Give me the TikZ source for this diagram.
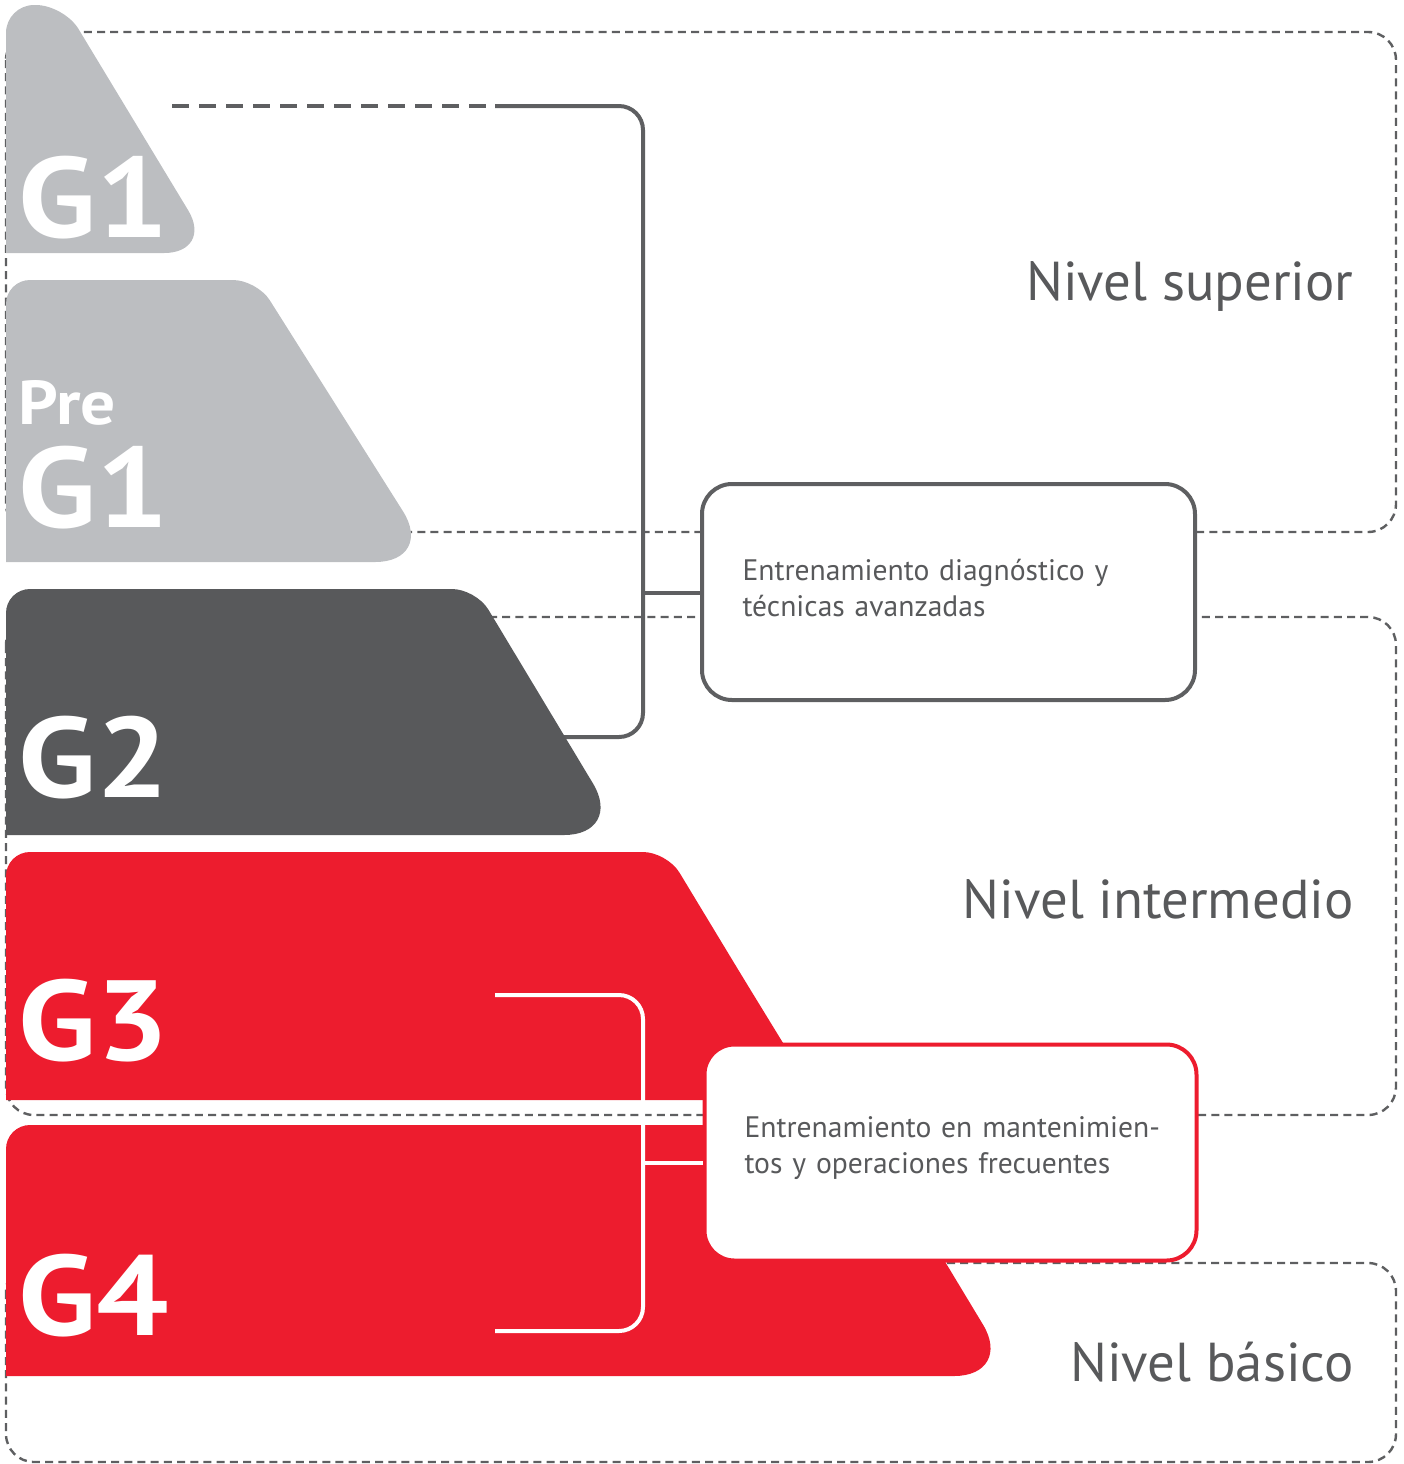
\documentclass[tikz,border=0pt]{standalone}
\usepackage{fontspec}
\setmainfont{PT Sans}
\newfontfamily\gfont[FakeStretch=1.12]{PT Sans}
\usepackage{tikz}
\usetikzlibrary{calc,positioning}
\definecolor{lgrayx}{HTML}{BCBEC1}
\definecolor{dgrayx}{HTML}{58595B}
\definecolor{redx}{HTML}{ED1C2E}
\definecolor{linex}{HTML}{5E5F61}
\tikzset{
  lvl/.style={draw=linex,line width=1.2pt,dash pattern=on 4pt off 2.6pt,rounded corners=14pt},
  brk/.style={draw=linex,line width=2pt,rounded corners=12pt},
  wbrk/.style={draw=white,line width=2pt,rounded corners=12pt},
  infobox/.style={line width=2pt,fill=white,rounded corners=15pt,minimum height=108pt,text width=206pt,align=left,inner xsep=20pt,text=dgrayx,font=\fontsize{14.8}{18}\selectfont},
  glab/.style={anchor=base west,inner sep=0pt,text=white,font=\gfont\bfseries\fontsize{57}{57}\selectfont},
  nivlab/.style={anchor=base east,inner sep=0pt,text=dgrayx,font=\fontsize{27.4}{30}\selectfont}
}

\begin{document}
\begin{tikzpicture}[x=0.5pt,y=-0.5pt]
\useasboundingbox (0,0) rectangle (1404,1464);
% niveles
\foreach \ya/\yb in {32/532,617/1115,1263/1462}{\draw[lvl] (6,\ya) rectangle (1396,\yb);}
% bracket gris
\draw[linex,line width=2pt,dash pattern=on 8.5pt off 5pt] (172,106) -- (495,106);
\draw[brk] (495,106) -- (643,106) -- (643,737) -- (495,737);
% bloques
\fill[lgrayx] (6,130) [rounded corners=14pt] -- (6,5) -- (64,5) -- (139,129) [rounded corners=25pt] -- (214,253) -- (110,253) [sharp corners] -- (6,253) -- cycle;
\fill[lgrayx] (6,400) [rounded corners=12pt] -- (6,280) -- (257,280) -- (346,421) [rounded corners=30pt] -- (435,562) -- (220,562) [sharp corners] -- (6,562) -- cycle;
\fill[dgrayx] (6,700) [rounded corners=12pt] -- (6,589) -- (476,589) -- (550,712) [rounded corners=30pt] -- (624,835) -- (300,835) [sharp corners] -- (6,835) -- cycle;
\fill[redx] (6,970) [rounded corners=12pt] -- (6,852) -- (667,852) -- (742,976) [rounded corners=25pt] -- (818,1100) -- (400,1100) [sharp corners] -- (6,1100) -- cycle;
\fill[redx] (6,1250) [rounded corners=12pt] -- (6,1125) -- (863,1125) -- (938,1250) [rounded corners=30pt] -- (1014,1376) -- (500,1376) [sharp corners] -- (6,1376) -- cycle;
% bracket blanco
\draw[wbrk] (495,995) -- (643,995) -- (643,1331) -- (495,1331);
% cajas
\node[infobox,draw=linex,minimum width=246.5pt] (box1) at (948.5,592) {Entrenamiento diagnóstico y\\técnicas avanzadas\par\vspace*{4pt}};
\node[infobox,draw=redx,minimum width=243.5pt] (box2) at (950.5,1152.5) {\mbox{Entrenamiento en mantenimien-}\\tos y operaciones frecuentes\par\vspace*{4pt}};
\coordinate (gj) at (643,593);
\coordinate (rj) at (643,1163);
\draw[brk] (gj) -- (gj -| box1.west);
\draw[wbrk] (rj) -- (rj -| box2.west);
% etiquetas
\foreach \lab/\yy [count=\i] in {G1/237,G1/527,G2/797,G3/1060,G4/1335}{\node[glab] (g\i) at (18,\yy) {\lab};}
\node[glab,font=\gfont\bfseries\fontsize{31}{31}\selectfont] (pre) at (18,424) {Pre};
\node[nivlab] (nsup) at (1354,300) {Nivel superior};
\node[nivlab] (nint) at (1354,918) {Nivel intermedio};
\node[nivlab] (nbas) at (1354,1381) {Nivel básico};
\end{tikzpicture}
\end{document}
